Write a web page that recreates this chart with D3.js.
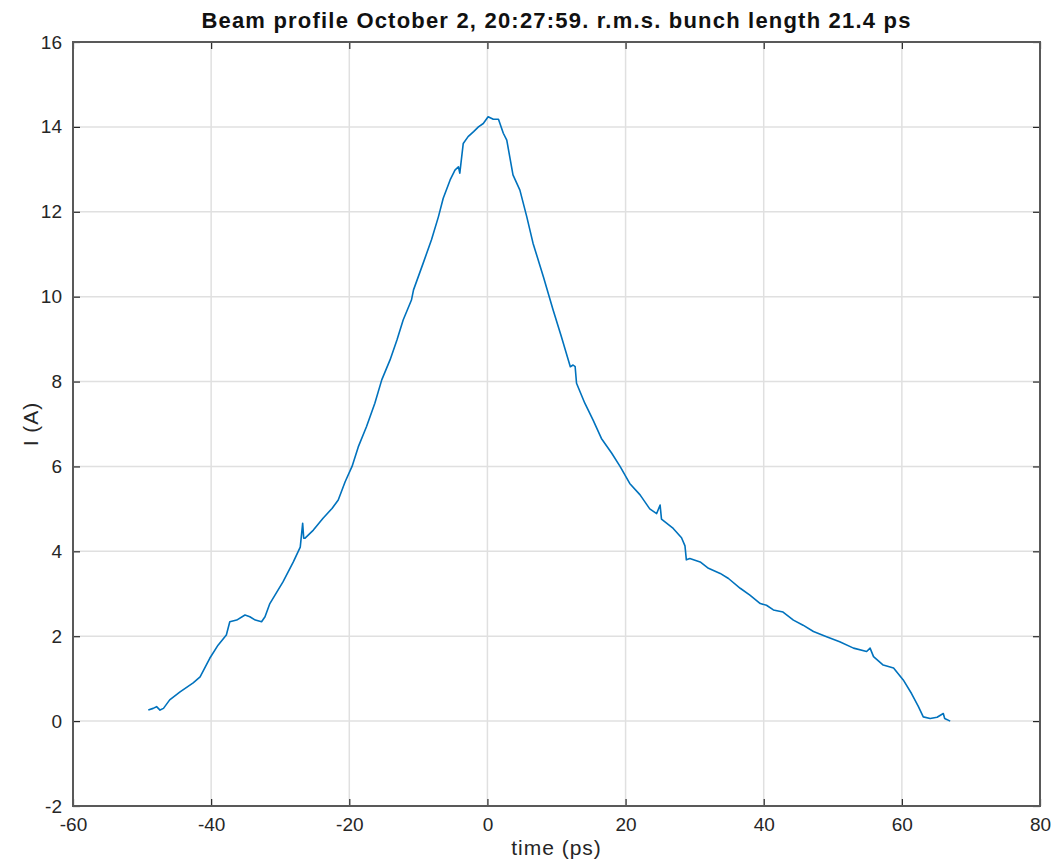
<!DOCTYPE html>
<html>
<head>
<meta charset="utf-8">
<script src="https://cdn.jsdelivr.net/npm/d3@7"></script>
<style>
  html, body { margin: 0; padding: 0; background: #fff; }
  svg text { font-family: "Liberation Sans", Arial, Helvetica, sans-serif; }
</style>
</head>
<body>
<svg id="chart" width="1057" height="863"></svg>
<script>
// Measured longitudinal beam current profile
const timePs = [
  -49.1, -48.4, -47.9, -47.4, -46.9, -46.0, -44.5, -42.6, -41.6, -40.2, -39.0, -37.8, -37.3,
  -36.3, -35.1, -34.4, -33.6, -32.7, -32.2, -31.5, -29.6, -28.1, -27.1, -26.75, -26.6, -26.4,
  -25.2, -23.8, -22.5, -21.6, -20.6, -19.6, -18.7, -17.5, -16.3, -15.3, -14.1, -13.1, -12.2,
  -11.0, -10.7, -9.3, -8.1, -7.1, -6.4, -5.4, -4.7, -4.2, -4.0, -3.5, -2.8, -2.0, -1.3, -0.6,
  0.1, 0.85, 1.6, 2.3, 2.8, 3.7, 4.7, 5.7, 6.6, 8.1, 9.5, 10.7, 12.0, 12.4, 12.7, 12.9, 14.1,
  15.3, 16.5, 18.0, 19.2, 20.6, 22.1, 23.5, 24.5, 25.0, 25.2, 26.9, 28.1, 28.6, 28.8, 29.3,
  30.8, 32.0, 33.7, 34.9, 36.6, 38.0, 39.5, 40.4, 41.4, 42.8, 44.3, 45.7, 47.2, 49.1, 51.0,
  53.0, 54.9, 55.4, 55.9, 57.3, 58.8, 60.2, 61.4, 62.4, 63.1, 64.1, 65.1, 66.0, 66.2, 67.0
];
const currentA = [
  0.26, 0.30, 0.34, 0.26, 0.30, 0.50, 0.69, 0.90, 1.04, 1.48, 1.79, 2.03, 2.34,
  2.38, 2.50, 2.46, 2.38, 2.34, 2.46, 2.77, 3.28, 3.75, 4.10, 4.66, 4.31, 4.31,
  4.50, 4.78, 5.01, 5.21, 5.64, 6.00, 6.46, 6.94, 7.49, 8.04, 8.51, 8.98, 9.45,
  9.92, 10.16, 10.79, 11.34, 11.88, 12.32, 12.75, 12.98, 13.06, 12.91, 13.61, 13.77, 13.89, 14.00, 14.08,
  14.24, 14.18, 14.18, 13.85, 13.69, 12.87, 12.51, 11.88, 11.26, 10.47, 9.69, 9.06, 8.35, 8.39, 8.35, 7.96, 7.49,
  7.09, 6.66, 6.31, 6.00, 5.60, 5.33, 5.00, 4.89, 5.09, 4.76, 4.54, 4.32, 4.13, 3.80, 3.83,
  3.75, 3.60, 3.48, 3.36, 3.13, 2.97, 2.77, 2.73, 2.62, 2.57, 2.38, 2.26, 2.11, 1.99, 1.87,
  1.72, 1.64, 1.72, 1.52, 1.32, 1.25, 0.97, 0.65, 0.34, 0.10, 0.06, 0.09, 0.18, 0.06, 0.00
];
const xTicks = [-60, -40, -20, 0, 20, 40, 60, 80];
const yTicks = [-2, 0, 2, 4, 6, 8, 10, 12, 14, 16];
const titleText = "Beam profile October 2, 20:27:59. r.m.s. bunch length 21.4 ps";
const xLabel = "time (ps)";
const yLabel = "I (A)";

const plot = { left: 73, right: 1040, top: 42, bottom: 806 };
const svg = d3.select("#chart");
const axisColor = "#262626";

const x = d3.scaleLinear().domain([-60, 80]).range([plot.left, plot.right]);
const y = d3.scaleLinear().domain([-2, 16]).range([plot.bottom, plot.top]);

// grid lines
const grid = svg.append("g");
grid.selectAll("line.gx").data(xTicks.slice(1, -1)).join("line")
  .attr("x1", d => x(d)).attr("x2", d => x(d))
  .attr("y1", plot.top).attr("y2", plot.bottom)
  .attr("stroke", "#e0e0e0").attr("stroke-width", 1.5);
grid.selectAll("line.gy").data(yTicks.slice(1, -1)).join("line")
  .attr("y1", d => y(d)).attr("y2", d => y(d))
  .attr("x1", plot.left).attr("x2", plot.right)
  .attr("stroke", "#e0e0e0").attr("stroke-width", 1.5);

// profile curve
const line = d3.line().x((d, i) => x(timePs[i])).y(d => y(d));
svg.append("path")
  .datum(currentA)
  .attr("d", line)
  .attr("fill", "none")
  .attr("stroke", "#0072BD")
  .attr("stroke-width", 1.6)
  .attr("stroke-linejoin", "round");

// axes with inward ticks; plain hyphen for negatives
const tickLen = 7;
const fmt = d => String(d);
const xAxisB = d3.axisBottom(x).tickValues(xTicks).tickSizeInner(-tickLen).tickSizeOuter(0).tickPadding(12).tickFormat(fmt);
const yAxisL = d3.axisLeft(y).tickValues(yTicks).tickSizeInner(-tickLen).tickSizeOuter(0).tickPadding(11).tickFormat(fmt);
const xAxisT = d3.axisTop(x).tickValues(xTicks).tickSizeInner(-tickLen).tickSizeOuter(0).tickFormat("");
const yAxisR = d3.axisRight(y).tickValues(yTicks).tickSizeInner(-tickLen).tickSizeOuter(0).tickFormat("");

function styleAxis(g) {
  g.select(".domain").remove();
  g.selectAll(".tick line").attr("stroke", axisColor).attr("stroke-width", 1.2);
  g.selectAll(".tick text").attr("fill", axisColor).attr("font-size", 19)
    .attr("font-family", "'Liberation Sans', Arial, sans-serif");
}
svg.append("g").attr("transform", `translate(0,${plot.bottom})`).call(xAxisB).call(styleAxis);
svg.append("g").attr("transform", `translate(${plot.left},0)`).call(yAxisL).call(styleAxis);
svg.append("g").attr("transform", `translate(0,${plot.top})`).call(xAxisT).call(styleAxis);
svg.append("g").attr("transform", `translate(${plot.right},0)`).call(yAxisR).call(styleAxis);

// box
svg.append("rect")
  .attr("x", plot.left).attr("y", plot.top)
  .attr("width", plot.right - plot.left).attr("height", plot.bottom - plot.top)
  .attr("fill", "none").attr("stroke", "#595959").attr("stroke-width", 2);

// labels
svg.append("text")
  .attr("x", (plot.left + plot.right) / 2).attr("y", 28)
  .attr("text-anchor", "middle").attr("font-weight", "bold").attr("font-size", 22)
  .attr("letter-spacing", 1.2)
  .attr("fill", "#111").text(titleText);
svg.append("text")
  .attr("x", (plot.left + plot.right) / 2).attr("y", 855)
  .attr("text-anchor", "middle").attr("font-size", 21)
  .attr("letter-spacing", 1)
  .attr("fill", axisColor).text(xLabel);
svg.append("text")
  .attr("transform", `translate(38,${(plot.top + plot.bottom) / 2}) rotate(-90)`)
  .attr("text-anchor", "middle").attr("font-size", 21)
  .attr("letter-spacing", 1)
  .attr("fill", axisColor).text(yLabel);
</script>
</body>
</html>
